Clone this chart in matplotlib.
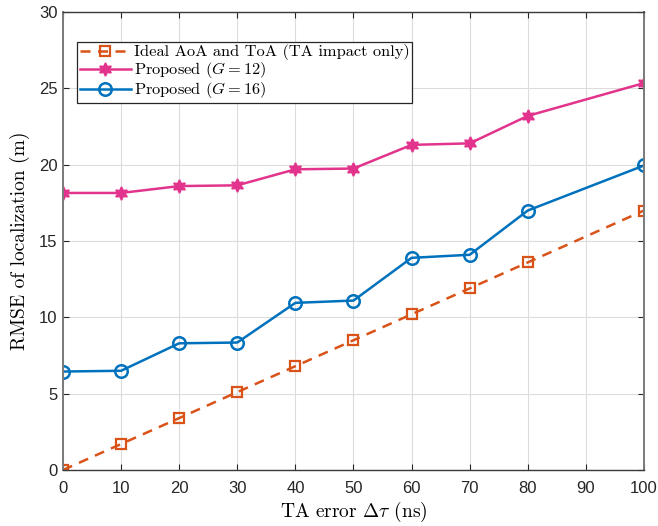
import matplotlib

matplotlib.use("Agg")
import matplotlib.pyplot as plt

# data
DELAY_NS = [0, 10, 20, 30, 40, 50, 60, 70, 80, 100]
IDEAL = [0.0, 1.7, 3.4, 5.1, 6.8, 8.5, 10.2, 11.9, 13.6, 17.0]
PROPOSED_G12 = [18.15, 18.15, 18.6, 18.65, 19.7, 19.75, 21.3, 21.4, 23.2, 25.35]
PROPOSED_G16 = [6.45, 6.5, 8.3, 8.35, 10.95, 11.1, 13.9, 14.1, 17.0, 19.95]

X_TICKS = list(range(0, 101, 10))
Y_TICKS = list(range(0, 31, 5))

ORANGE = "#D95319"
PINK = "#E2348C"
BLUE = "#0072BD"
AXIS_COLOR = "#262626"

plt.rcParams["mathtext.fontset"] = "cm"
SERIF = "cmr10"


def main():
    fig = plt.figure(figsize=(6.58, 5.26), dpi=100)
    ax = fig.add_axes([0.0957, 0.1065, 0.883, 0.8705])

    ax.plot(DELAY_NS, IDEAL, linestyle=(0, (4, 3)), color=ORANGE, lw=1.8,
            marker="s", markersize=6.5, markerfacecolor="none",
            markeredgewidth=1.6, label="Ideal AoA and ToA (TA impact only)")
    ax.plot(DELAY_NS, PROPOSED_G12, color=PINK, lw=1.8,
            marker=(6, 1, 0), markersize=9.5, markerfacecolor=PINK,
            markeredgewidth=1.2, label="Proposed ($G = 12$)")
    ax.plot(DELAY_NS, PROPOSED_G16, color=BLUE, lw=1.8,
            marker="o", markersize=9, markerfacecolor="none",
            markeredgewidth=1.8, label="Proposed ($G = 16$)")

    ax.set_xlim(0, 100)
    ax.set_ylim(0, 30)
    ax.set_xticks(X_TICKS)
    ax.set_yticks(Y_TICKS)
    ax.grid(color="#dcdcdc", linewidth=0.8)
    ax.set_axisbelow(True)
    ax.tick_params(direction="in", length=4, labelsize=12, colors=AXIS_COLOR,
                   top=True, right=True)
    ax.tick_params(axis="x", pad=8)
    ax.tick_params(axis="y", pad=4)
    for label in ax.get_xticklabels() + ax.get_yticklabels():
        label.set_fontfamily("Liberation Sans")
    for side in ("left", "right"):
        ax.spines[side].set_color("#7a7a7a")
        ax.spines[side].set_linewidth(1.4)
    for side in ("top", "bottom"):
        ax.spines[side].set_color("#3a3a3a")
        ax.spines[side].set_linewidth(1.0)

    ax.set_xlabel(r"TA error $\Delta\tau$ (ns)", fontsize=14, fontfamily=SERIF,
                  labelpad=3)
    ax.set_ylabel("RMSE of localization (m)", fontsize=14, fontfamily=SERIF,
                  labelpad=6)

    leg = ax.legend(loc="upper left", bbox_to_anchor=(0.025, 0.935),
                    prop={"family": SERIF, "size": 11.8}, fancybox=False,
                    edgecolor="#262626", framealpha=1, borderpad=0.15,
                    labelspacing=0.0, handlelength=3.1, handletextpad=0.2,
                    borderaxespad=0)
    leg.get_frame().set_linewidth(0.9)

    fig.savefig("out.png", dpi=100, facecolor="white")
    plt.close(fig)


if __name__ == "__main__":
    main()
